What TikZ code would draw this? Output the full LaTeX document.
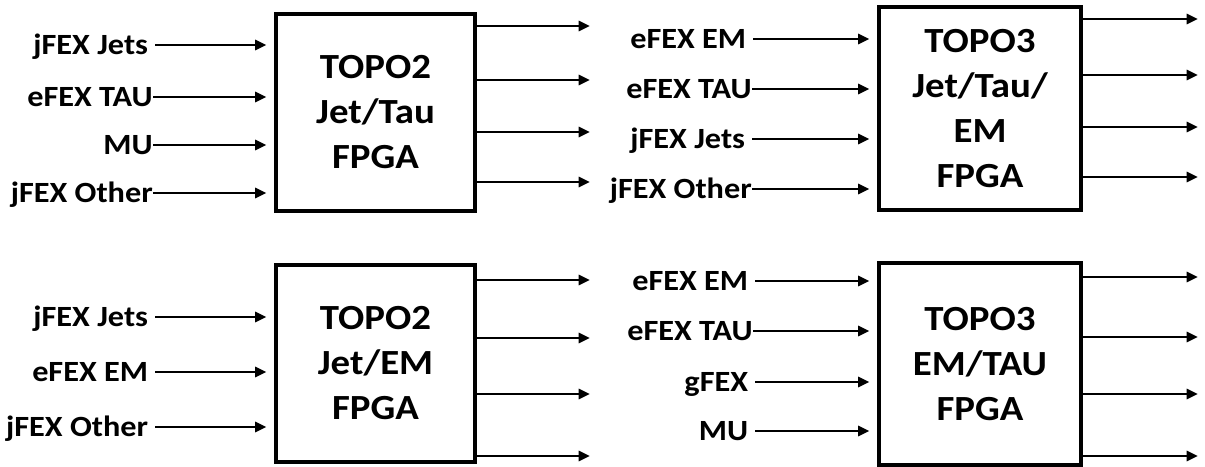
\documentclass[tikz,border=0pt]{standalone}
\usepackage{fontspec}
\setmainfont{Carlito}[FakeStretch=1.1]
\usetikzlibrary{arrows.meta}

\begin{document}
\begin{tikzpicture}[x=0.75pt,y=-0.75pt,
    fpga/.style={draw, line width=3.25pt, align=center, inner sep=0pt,
      font=\fontsize{26.5}{33.75}\selectfont\bfseries},
    feed/.style={anchor=east, inner sep=0pt, text height=14pt, text depth=0pt,
      font=\fontsize{22}{26}\selectfont\bfseries},
    spaced/.style={feed, inner xsep=5pt},
    link/.style={line width=2.2pt, -{Triangle[length=8.5pt,width=7.5pt]}},
    inlink/.style={link, shorten >=5.5pt}
  ]
  \useasboundingbox (0,0) rectangle (1205,467);

  % top left: TOPO2 Jet/Tau
  \node[fpga, minimum width=149.25pt, minimum height=147.75pt] (jt) at (375.5,112.5)
    {TOPO2\\Jet/Tau\\FPGA};
  \node[spaced] (jt1) at (155,45)  {jFEX Jets};
  \node[feed] (jt2) at (153,97)  {eFEX TAU};
  \node[feed] (jt3) at (153,145) {MU};
  \node[feed] (jt4) at (153,193) {jFEX Other};
  \foreach \i in {1,...,4}
    \draw[inlink] (jt\i.east) -- (jt.west |- jt\i);
  \foreach \y [count=\i] in {26,80,132,182} {
    \coordinate (jto\i) at (590,\y);
    \draw[link] (jt.east |- jto\i) -- (jto\i);
  }

  % top right: TOPO3 Jet/Tau/EM
  \node[fpga, minimum width=151.5pt, minimum height=152.25pt] (jte) at (980,108.5)
    {TOPO3\\Jet/Tau/\\EM\\FPGA};
  \node[spaced] (jte1) at (753,39)  {eFEX EM};
  \node[feed] (jte2) at (752,89)  {eFEX TAU};
  \node[spaced] (jte3) at (752,139) {jFEX Jets};
  \node[feed] (jte4) at (752,189) {jFEX Other};
  \foreach \i in {1,...,4}
    \draw[inlink] (jte\i.east) -- (jte.west |- jte\i);
  \foreach \y [count=\i] in {19,75,127,177} {
    \coordinate (jteo\i) at (1198,\y);
    \draw[link] (jte.east |- jteo\i) -- (jteo\i);
  }

  % bottom left: TOPO2 Jet/EM
  \node[fpga, minimum width=149.25pt, minimum height=147.75pt] (je) at (375.5,363.5)
    {TOPO2\\Jet/EM\\FPGA};
  \node[spaced] (je1) at (155,317) {jFEX Jets};
  \node[spaced] (je2) at (155,372) {eFEX EM};
  \node[spaced] (je3) at (155,427) {jFEX Other};
  \foreach \i in {1,...,3}
    \draw[inlink] (je\i.east) -- (je.west |- je\i);
  \foreach \y [count=\i] in {280,338,394,456} {
    \coordinate (jeo\i) at (590,\y);
    \draw[link] (je.east |- jeo\i) -- (jeo\i);
  }

  % bottom right: TOPO3 EM/TAU
  \node[fpga, minimum width=151.5pt, minimum height=151.5pt] (et) at (980,364)
    {TOPO3\\EM/TAU\\FPGA};
  \node[spaced] (et1) at (755,281) {eFEX EM};
  \node[feed] (et2) at (753,331) {eFEX TAU};
  \node[spaced] (et3) at (755,382) {gFEX};
  \node[spaced] (et4) at (755,431) {MU};
  \foreach \i in {1,...,4}
    \draw[inlink] (et\i.east) -- (et.west |- et\i);
  \foreach \y [count=\i] in {277,337,394,456} {
    \coordinate (eto\i) at (1198,\y);
    \draw[link] (et.east |- eto\i) -- (eto\i);
  }
\end{tikzpicture}
\end{document}
